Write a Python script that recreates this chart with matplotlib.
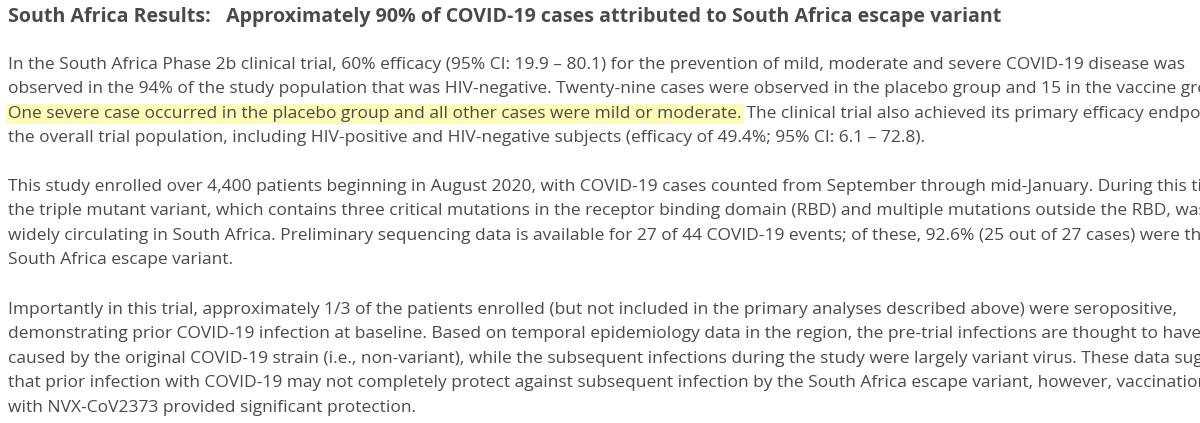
import matplotlib
matplotlib.use("Agg")
import matplotlib.pyplot as plt

title = "South Africa Results:   Approximately 90% of COVID-19 cases attributed to South Africa escape variant"

para1 = [
    "In the South Africa Phase 2b clinical trial, 60% efficacy (95% CI: 19.9 \u2013 80.1) for the prevention of mild, moderate and severe COVID-19 disease was",
    "observed in the 94% of the study population that was HIV-negative. Twenty-nine cases were observed in the placebo group and 15 in the vaccine group.",
    None,
    "the overall trial population, including HIV-positive and HIV-negative subjects (efficacy of 49.4%; 95% CI: 6.1 \u2013 72.8).",
]
highlight = "One severe case occurred in the placebo group and all other cases were mild or moderate."
after_highlight = " The clinical trial also achieved its primary efficacy endpoint in"

para2 = [
    "This study enrolled over 4,400 patients beginning in August 2020, with COVID-19 cases counted from September through mid-January. During this time,",
    "the triple mutant variant, which contains three critical mutations in the receptor binding domain (RBD) and multiple mutations outside the RBD, was",
    "widely circulating in South Africa. Preliminary sequencing data is available for 27 of 44 COVID-19 events; of these, 92.6% (25 out of 27 cases) were the",
    "South Africa escape variant.",
]

para3 = [
    "Importantly in this trial, approximately 1/3 of the patients enrolled (but not included in the primary analyses described above) were seropositive,",
    "demonstrating prior COVID-19 infection at baseline. Based on temporal epidemiology data in the region, the pre-trial infections are thought to have been",
    "caused by the original COVID-19 strain (i.e., non-variant), while the subsequent infections during the study were largely variant virus. These data suggest",
    "that prior infection with COVID-19 may not completely protect against subsequent infection by the South Africa escape variant, however, vaccination",
    "with NVX-CoV2373 provided significant protection.",
]

W, H = 1200, 423
fig = plt.figure(figsize=(W / 100, H / 100), dpi=100)
fig.patch.set_facecolor("white")
color = "#4a4a4a"
fs = 12.55
family = ["Open Sans", "DejaVu Sans"]


def put(x, y, s, size=fs, **kw):
    return fig.text(x / W, 1 - y / H, s, fontsize=size, color=color, family=family,
                    va="center", ha="left", **kw)


put(8, 17, title, size=14.1, fontweight="bold")

step = 24.4
for i, line in enumerate(para1):
    y = 65 + i * step
    if line is None:
        t = put(8, y, highlight, bbox=dict(facecolor="#fdfcb8", edgecolor="none", pad=1.5))
        fig.canvas.draw()
        bb = t.get_window_extent()
        put(bb.x1, y, after_highlight)
    else:
        put(8, y, line)

for i, line in enumerate(para2):
    put(8, 187 + i * step, line)

for i, line in enumerate(para3):
    put(8, 310 + i * step, line)

fig.savefig("out.png", dpi=100, facecolor="white")
